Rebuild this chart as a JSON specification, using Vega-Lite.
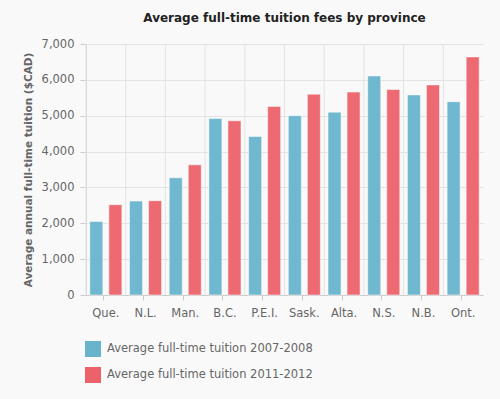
{
  "$schema": "https://vega.github.io/schema/vega-lite/v6.json",
  "width": 397,
  "height": 251,
  "autosize": {"type": "none"},
  "padding": {"left": 86, "top": 44, "right": 17, "bottom": 104},
  "background": "#f9f9f9",
  "title": {
    "text": "Average full-time tuition fees by province",
    "font": "DejaVu Sans",
    "fontSize": 12,
    "fontWeight": "bold",
    "color": "#222222",
    "anchor": "middle",
    "offset": 13
  },
  "data": {
    "values": [
      {"province": "Que.", "period": "Average full-time tuition 2007-2008", "tuition": 2050},
      {"province": "Que.", "period": "Average full-time tuition 2011-2012", "tuition": 2520},
      {"province": "N.L.", "period": "Average full-time tuition 2007-2008", "tuition": 2620},
      {"province": "N.L.", "period": "Average full-time tuition 2011-2012", "tuition": 2630},
      {"province": "Man.", "period": "Average full-time tuition 2007-2008", "tuition": 3270},
      {"province": "Man.", "period": "Average full-time tuition 2011-2012", "tuition": 3630},
      {"province": "B.C.", "period": "Average full-time tuition 2007-2008", "tuition": 4920},
      {"province": "B.C.", "period": "Average full-time tuition 2011-2012", "tuition": 4860},
      {"province": "P.E.I.", "period": "Average full-time tuition 2007-2008", "tuition": 4420},
      {"province": "P.E.I.", "period": "Average full-time tuition 2011-2012", "tuition": 5260},
      {"province": "Sask.", "period": "Average full-time tuition 2007-2008", "tuition": 5000},
      {"province": "Sask.", "period": "Average full-time tuition 2011-2012", "tuition": 5600},
      {"province": "Alta.", "period": "Average full-time tuition 2007-2008", "tuition": 5100},
      {"province": "Alta.", "period": "Average full-time tuition 2011-2012", "tuition": 5660},
      {"province": "N.S.", "period": "Average full-time tuition 2007-2008", "tuition": 6110},
      {"province": "N.S.", "period": "Average full-time tuition 2011-2012", "tuition": 5730},
      {"province": "N.B.", "period": "Average full-time tuition 2007-2008", "tuition": 5580},
      {"province": "N.B.", "period": "Average full-time tuition 2011-2012", "tuition": 5860},
      {"province": "Ont.", "period": "Average full-time tuition 2007-2008", "tuition": 5390},
      {"province": "Ont.", "period": "Average full-time tuition 2011-2012", "tuition": 6640}
    ]
  },
  "layer": [
    {
      "mark": {"type": "bar", "fillOpacity": 0.95, "stroke": "#ffffff", "strokeOpacity": 0.5, "strokeWidth": 1},
      "encoding": {
        "x": {
          "field": "province",
          "type": "nominal",
          "sort": null,
          "scale": {"paddingInner": 0, "paddingOuter": 0},
          "axis": {
            "title": null,
            "labelAngle": 0,
            "grid": false,
            "bandPosition": 0.45,
            "tickSize": 5,
            "labelPadding": 7,
            "labelFont": "DejaVu Sans",
            "labelFontSize": 11.5,
            "labelColor": "#666666",
            "domainColor": "#cccccc",
            "tickColor": "#cccccc"
          }
        },
        "xOffset": {
          "field": "period",
          "type": "nominal",
          "scale": {"paddingInner": 0.316, "paddingOuter": 0.2}
        },
        "y": {
          "field": "tuition",
          "type": "quantitative",
          "scale": {"domain": [0, 7000], "nice": false},
          "axis": {
            "title": "Average annual full-time tuition ($CAD)",
            "titleFont": "DejaVu Sans",
            "titleFontSize": 10.5,
            "titleFontWeight": "bold",
            "titleColor": "#666666",
            "titlePadding": 8,
            "values": [0, 1000, 2000, 3000, 4000, 5000, 6000, 7000],
            "format": ",.0f",
            "tickSize": 6,
            "labelPadding": 6,
            "labelFont": "DejaVu Sans",
            "labelFontSize": 11.5,
            "labelColor": "#666666",
            "domainColor": "#cccccc",
            "tickColor": "#cccccc",
            "gridColor": "#e3e3e3"
          }
        },
        "color": {
          "field": "period",
          "type": "nominal",
          "scale": {"range": ["#67b4cc", "#ec626a"]},
          "legend": {
            "title": null,
            "orient": "none",
            "legendX": -1,
            "legendY": 297,
            "direction": "vertical",
            "symbolType": "square",
            "symbolSize": 256,
            "symbolStrokeWidth": 0,
            "symbolOpacity": 1,
            "rowPadding": 10,
            "labelOffset": 6,
            "labelFont": "DejaVu Sans",
            "labelFontSize": 11.5,
            "labelColor": "#666666",
            "labelLimit": 400,
            "padding": 0
          }
        }
      }
    },
    {
      "transform": [{"filter": "datum.period === 'Average full-time tuition 2007-2008'"}],
      "mark": {"type": "rule", "color": "#e3e3e3", "strokeWidth": 1},
      "encoding": {
        "x": {"field": "province", "type": "nominal", "sort": null, "bandPosition": 0}
      }
    }
  ],
  "config": {
    "view": {"stroke": null},
    "axis": {"labelFont": "DejaVu Sans"}
  }
}
